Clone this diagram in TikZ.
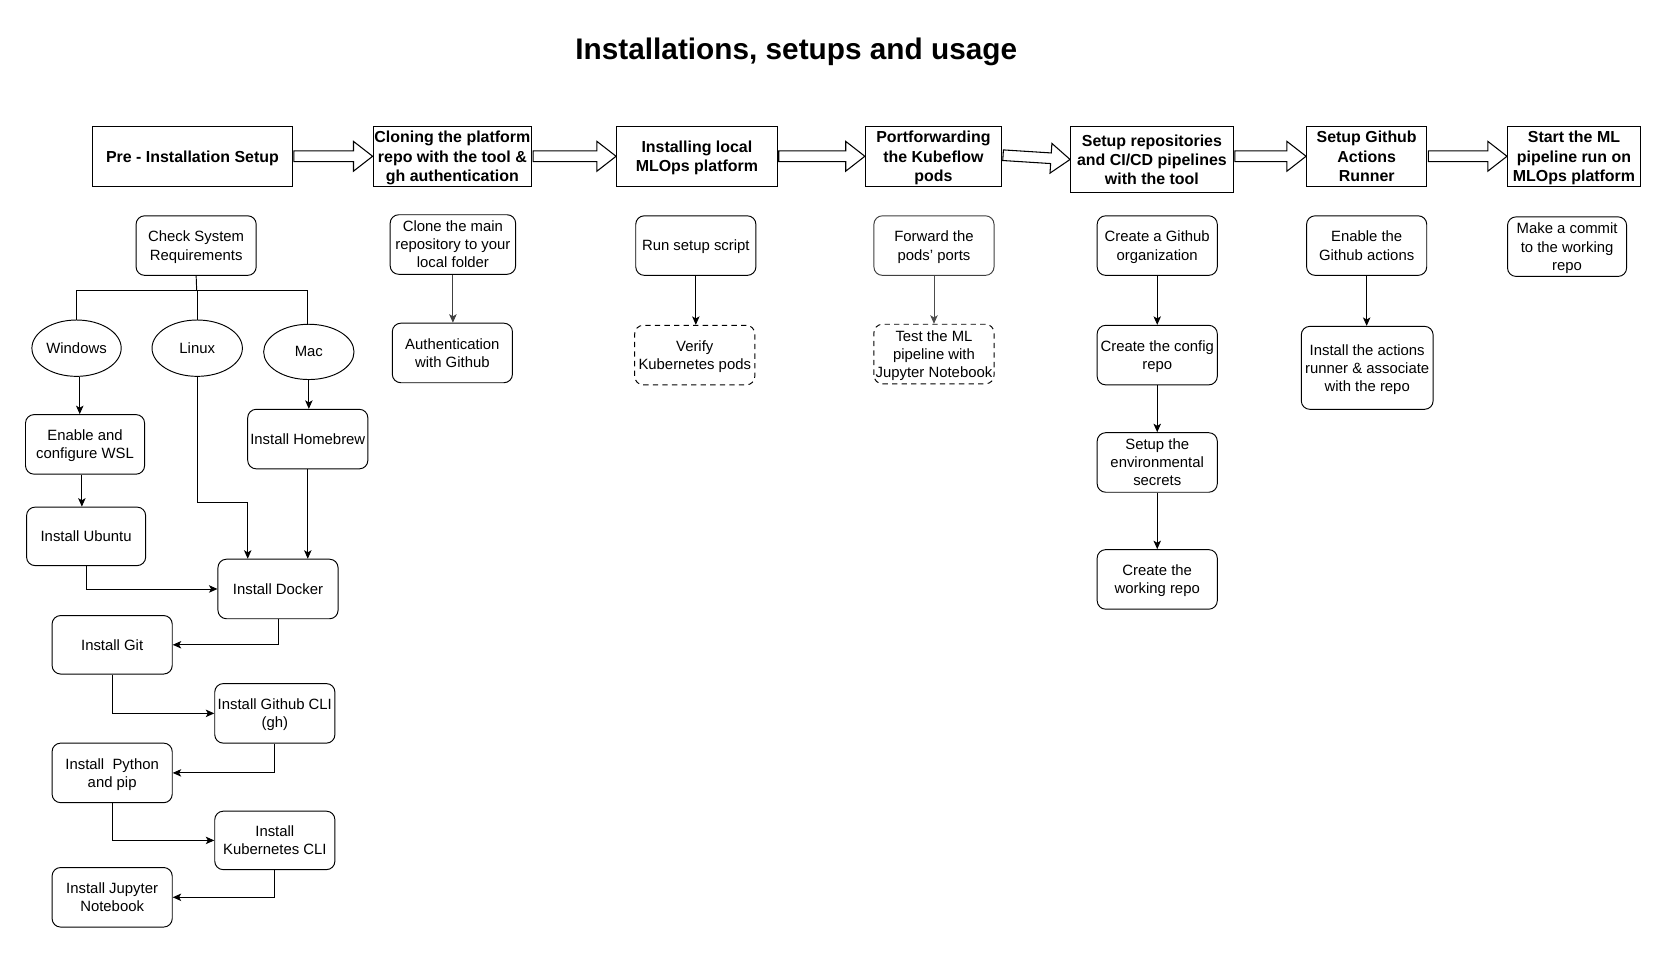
\documentclass[tikz,border=0pt]{standalone}
\usepackage{fontspec}
\setmainfont{Liberation Sans}
\usetikzlibrary{shapes.geometric,arrows.meta,calc}

\tikzset{
  stage/.style={draw, line width=1pt, font=\bfseries\fontsize{15}{18}\selectfont, align=center, inner sep=0pt, minimum height=56pt, text depth=0pt},
  task/.style={draw, line width=0.9pt, rounded corners=8pt, font=\fontsize{14}{17}\selectfont, align=center, inner sep=0pt, minimum width=113pt, minimum height=56pt, text depth=0pt},
  grayline/.style={draw=black!75},
  dashedtask/.style={task, dash pattern=on 5pt off 4pt},
  os/.style={draw, ellipse, line width=0.9pt, font=\fontsize{14}{17}\selectfont, inner sep=0pt, minimum width=85pt, minimum height=53pt},
  conn/.style={line width=0.9pt, -{Stealth[length=8pt,width=7pt,inset=2pt]}},
  plainline/.style={line width=0.9pt},
  flex/.style={draw, line width=1pt, fill=white, line join=miter},
}

\newcommand\flexarrow[2]{%
  \coordinate (fa) at (#1);
  \coordinate (fb) at (#2);
  \coordinate (fh) at ($(fb)!18pt!(fa)$);
  \draw[flex] ($(fa)!5pt!90:(fb)$) -- ($(fh)!5pt!90:(fb)$) -- ($(fh)!14pt!90:(fb)$) -- (fb)
     -- ($(fh)!14pt!-90:(fb)$) -- ($(fh)!5pt!-90:(fb)$) -- ($(fa)!5pt!-90:(fb)$) -- cycle;}

\begin{document}
\begin{tikzpicture}[x=1pt,y=-1pt]
\fill[white] (0,0) rectangle (1568,896);
\useasboundingbox (0,0) rectangle (1568,896);

% title
\node[font=\bfseries\fontsize{28}{34}\selectfont] (title) at (749,49) {Installations, setups and usage};

% stages
\node[stage, minimum width=188pt] (t1) at (181,147) {Pre - Installation Setup};
\node[stage, minimum width=149pt] (t2) at (425.5,147) {Cloning the platform\\repo with the tool \&\\gh authentication};
\node[stage, minimum width=151pt] (t3) at (655.5,147) {Installing local\\MLOps platform};
\node[stage, minimum width=128pt] (t4) at (878,147) {Portforwarding\\the Kubeflow\\pods};
\node[stage, minimum width=153pt, minimum height=62pt] (t5) at (1083.5,150) {Setup repositories\\and CI/CD pipelines\\with the tool};
\node[stage, minimum width=113pt] (t6) at (1285.5,147) {Setup Github\\Actions\\Runner};
\node[stage, minimum width=125pt] (t7) at (1480.5,147) {Start the ML\\pipeline run on\\MLOps platform};

\flexarrow{[xshift=1pt]t1.east}{t2.west}
\flexarrow{[xshift=1pt]t2.east}{t3.west}
\flexarrow{[xshift=1pt]t3.east}{t4.west}
\flexarrow{[xshift=1pt,yshift=1pt]t4.east}{t5.west}
\flexarrow{[xshift=1pt,yshift=3pt]t5.east}{t6.west}
\flexarrow{[xshift=1pt]t6.east}{t7.west}

% column 1
\node[task] (check) at (184.5,231) {Check System\\Requirements};
\node[os, minimum width=84pt] (win) at (72,327.5) {Windows};
\node[os] (linux) at (185.5,327.5) {Linux};
\node[os, minimum height=52pt] (mac) at (290.5,331) {Mac};
\coordinate (split) at (185,273);
\draw[plainline] (check.south) -- (split);
\draw[plainline] (split) -| (win.north);
\draw[plainline] (split) -- (split -| linux.north) -- (linux.north);
\draw[plainline] (split) -| ([xshift=-1.5pt]mac.north);

\node[task, minimum width=112pt] (wsl) at (80,418) {Enable and\\configure WSL};
\node[task, minimum width=112pt, minimum height=55pt] (ubuntu) at (81,504.5) {Install Ubuntu};
\node[task] (brew) at (289.5,413) {Install Homebrew};
\node[task] (docker) at (261.5,554) {Install Docker};
\node[task, minimum height=55pt] (git) at (105.5,606.5) {Install Git};
\node[task] (cli) at (258.5,671) {Install Github CLI\\(gh)};
\node[task] (python) at (105.5,727) {Install~~Python\\and pip};
\node[task, minimum height=55pt] (k8s) at (258.5,790.5) {Install\\Kubernetes CLI};
\node[task] (jupyter) at (105.5,844) {Install Jupyter\\Notebook};

\draw[conn] ([xshift=3pt]win.south) -- ([xshift=3pt]win.south |- wsl.north);
\draw[conn] ([xshift=-3pt]wsl.south) -- ([xshift=-3pt]wsl.south |- ubuntu.north);
\draw[conn] (mac.south) -- (mac.south |- brew.north);
\coordinate (lbend) at (233,473);
\draw[conn] (linux.south) |- (lbend) -- (lbend |- docker.north);
\draw[conn] (brew.south) -- (brew.south |- docker.north);
\draw[conn] (ubuntu.south) |- (docker.west);
\draw[conn] (docker.south) |- (git.east);
\draw[conn] (git.south) |- (cli.west);
\draw[conn] (cli.south) |- (python.east);
\draw[conn] (python.south) |- (k8s.west);
\draw[conn] (k8s.south) |- (jupyter.east);

% column 2
\node[task, minimum width=118pt] (clone) at (426,230) {Clone the main\\repository to your\\local folder};
\node[task] (auth) at (425.5,332) {Authentication\\with Github};
\draw[conn, draw=black!75] (clone.south) -- (clone.south |- auth.north);

% column 3
\node[task] (run) at (654.5,231) {Run setup script};
\node[dashedtask] (verify) at (653.5,334) {Verify\\Kubernetes pods};
\draw[conn] (run.south) -- (run.south |- verify.north);

% column 4
\node[task, grayline] (fwd) at (878.5,231) {Forward the\\pods' ports};
\node[dashedtask] (test) at (878.5,333) {Test the ML\\pipeline with\\Jupyter Notebook};
\draw[conn, draw=black!70] (fwd.south) -- (fwd.south |- test.north);

% column 5
\node[task] (org) at (1088.5,231) {Create a Github\\organization};
\node[task] (config) at (1088.5,334) {Create the config\\repo};
\node[task] (secrets) at (1088.5,435) {Setup the\\environmental\\secrets};
\node[task] (working) at (1088.5,545) {Create the\\working repo};
\draw[conn] (org.south) -- (org.south |- config.north);
\draw[conn] (config.south) -- (config.south |- secrets.north);
\draw[conn] (secrets.south) -- (secrets.south |- working.north);

% column 6
\node[task] (enable) at (1285.5,231) {Enable the\\Github actions};
\node[task, minimum width=124pt, minimum height=78pt] (runner) at (1286,346) {Install the actions\\runner \& associate\\with the repo};
\draw[conn] (enable.south) -- (enable.south |- runner.north);

% column 7
\node[task, minimum width=112pt] (commit) at (1474,232) {Make a commit\\to the working\\repo};

\end{tikzpicture}
\end{document}
